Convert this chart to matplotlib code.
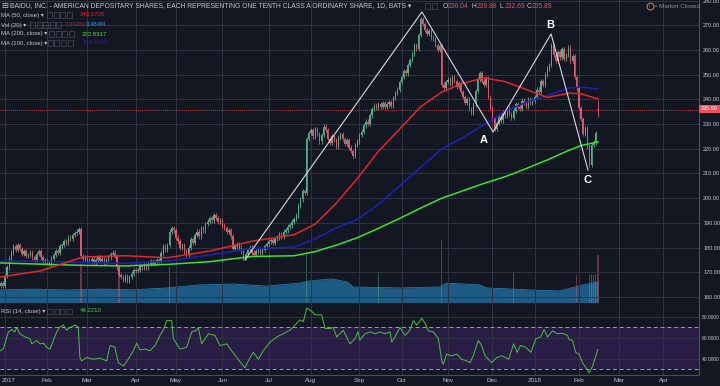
import numpy as np
import pandas as pd
import matplotlib
matplotlib.use('Agg')
import matplotlib.pyplot as plt
import matplotlib.transforms as mtransforms
from matplotlib.patches import Rectangle
from matplotlib.lines import Line2D

plt.rcParams['font.family'] = ['Liberation Sans', 'DejaVu Sans']

# daily closes, 2016-12-28 .. 2018-02-14
close_dec16 = [164.5, 165.5, 164.4]
close_jan17 = [168.5, 172.0, 175.5, 178.0, 180.5, 179.0, 181.0, 179.5, 177.5, 178.5,
               176.5, 177.0, 178.0, 176.0, 175.0, 177.5, 178.5, 176.0, 174.5, 175.0]
close_feb17 = [174.0, 173.5, 175.5, 177.0, 178.5, 178.0, 180.5, 181.0, 182.5, 182.0,
               184.0, 183.5, 185.0, 186.0, 186.5, 187.5, 176.5, 175.5, 176.0]
close_mar17 = [175.0, 174.5, 175.5, 174.0, 175.0, 176.0, 174.5, 175.5, 174.0, 175.0, 176.0,
               177.5, 178.0, 176.5, 172.0, 169.0, 168.0, 167.0, 168.5, 166.5, 168.0, 169.5, 171.0]
close_apr17 = [170.5, 171.0, 172.5, 172.0, 173.0, 172.0, 173.5, 174.5, 173.5, 174.0,
               175.0, 174.5, 178.0, 180.5, 179.0, 181.0, 186.5, 188.0, 187.0]
close_may17 = [184.0, 182.5, 180.0, 181.0, 178.5, 177.0, 180.0, 183.5, 182.0, 185.0, 186.5,
               184.5, 188.0, 187.0, 189.5, 190.5, 192.0, 191.0, 193.0, 192.0, 190.5, 191.0]
close_jun17 = [189.0, 188.0, 186.5, 187.0, 184.5, 179.5, 180.5, 181.5, 180.0, 178.5, 176.0,
               177.5, 179.0, 180.0, 178.0, 177.0, 178.5, 179.5, 178.0, 179.0, 180.5, 181.5]
close_jul17 = [182.5, 183.0, 182.0, 183.5, 184.0, 185.5, 184.5, 186.5, 187.0, 188.5,
               189.0, 190.5, 191.5, 193.0, 197.0, 199.5, 203.0, 202.0, 224.0, 226.5]
close_aug17 = [227.5, 225.0, 228.0, 226.0, 223.0, 225.5, 229.0, 227.5, 224.0, 222.5, 225.0, 223.5,
               221.0, 224.5, 226.0, 224.0, 222.0, 223.5, 220.5, 219.0, 217.0, 221.5, 223.0]
close_sep17 = [225.5, 227.0, 229.5, 231.0, 230.0, 233.5, 236.0, 237.5, 236.5, 238.0,
               237.0, 238.5, 237.0, 238.0, 239.0, 237.5, 240.5, 242.5, 244.0, 247.0]
close_oct17 = [249.0, 251.5, 250.5, 254.0, 256.0, 258.5, 262.0, 260.5, 266.0, 272.5, 270.5,
               268.0, 266.5, 267.5, 265.0, 264.5, 262.0, 260.0, 261.5, 246.0, 244.5, 247.0]
close_nov17 = [248.0, 246.5, 249.0, 247.5, 245.0, 246.5, 243.0, 241.0, 238.5, 240.0, 236.0,
               234.5, 238.0, 243.5, 248.0, 250.5, 247.5, 246.0, 248.5, 241.0, 236.5]
close_dec17 = [232.0, 228.0, 230.5, 233.0, 231.5, 235.0, 233.5, 236.5, 234.0, 232.5,
               235.5, 238.0, 237.0, 236.0, 239.5, 238.5, 237.0, 240.0, 238.5, 239.5]
close_jan18 = [241.0, 244.0, 243.0, 247.5, 246.0, 250.0, 252.5, 254.0, 262.0, 258.0, 255.5,
               259.0, 257.0, 260.5, 256.5, 258.0, 261.0, 255.5, 257.5, 249.0, 244.5]
close_feb18 = [236.5, 232.0, 226.0, 228.5, 221.0, 213.5, 221.5, 222.5, 226.5, 235.89]

last_open, last_high, last_low = 236.04, 239.88, 232.69

# moving averages read at these trading-day positions
ma_days = [0, 20, 40, 60, 80, 100, 120, 140, 150, 160, 170, 180, 190, 200, 210, 220,
           230, 240, 250, 260, 270, 276, 284]
ma50 = [168.0, 170.6, 176.2, 176.7, 175.9, 178.6, 182.6, 185.2, 189.5, 198.0, 208.0, 219.0,
        228.0, 237.0, 243.0, 246.5, 248.7, 247.2, 244.0, 240.8, 242.5, 242.3, 240.17]
ma100 = [174.5, 174.5, 174.0, 173.6, 174.5, 177.0, 179.6, 180.2, 183.5, 188.0, 191.4, 197.5,
         205.0, 212.5, 220.0, 224.6, 229.7, 235.2, 238.9, 241.5, 244.6, 245.0, 244.2]
ma200 = [173.8, 173.3, 172.8, 172.6, 173.2, 174.3, 176.4, 176.7, 178.4, 181.0, 184.0, 187.8,
         191.8, 196.0, 200.0, 203.0, 206.0, 208.7, 212.0, 215.5, 219.3, 221.3, 222.83]

# volume (millions): 20-day average area and the taller single bars
vol_days = [0, 16, 32, 48, 64, 80, 95, 111, 127, 143, 147, 158, 165, 168, 190, 209, 212,
            228, 231, 253, 266, 277, 284]
vol_ma = [2.16, 2.3, 2.16, 2.3, 2.2, 2.5, 3.0, 3.15, 2.8, 3.3, 3.65, 4.0, 3.5, 2.65, 2.5,
          2.65, 3.3, 3.0, 2.5, 2.15, 2.0, 3.0, 3.484]
vol_bar_days = [39, 57, 81, 146, 180, 210, 244, 274, 280, 281, 282, 283, 284]
vol_bar_vals = [6.5, 5.0, 6.0, 8.3, 5.1, 10.4, 5.1, 4.6, 4.6, 4.8, 4.6, 4.8, 7.893]

# RSI(14)
rsi_days = [0.6, 2.2, 4.6, 6.2, 7.7, 8.5, 10.1, 12.5, 14.8, 15.7,
            18, 19.6, 21.2, 22.8, 24.3, 25.9, 27.5, 29.1, 30.6, 32.2,
            33.8, 36.2, 37.7, 38.5, 39.3, 41.7, 44.8, 48, 51.2, 52.8,
            55.1, 56.7, 59.1, 61.4, 63.8, 65.4, 67, 69.4, 71.7, 74.1,
            76.5, 78, 79.6, 82, 82.8, 84.4, 85.9, 89.1, 91.5, 93.8,
            94.6, 96.2, 99.4, 102.5, 104.9, 108.1, 110.4, 112.8, 116.7, 119.1,
            120.7, 123.1, 125.4, 128.6, 131.8, 134.9, 138.1, 140.4, 142.8, 144.4,
            146, 148.4, 149.9, 153.1, 154.7, 157, 158.6, 160.2, 163.3, 166.5,
            168.8, 170.3, 171.2, 173.6, 176, 178.4, 180.7, 183.1, 185.5, 186.3,
            187.8, 190.2, 192.6, 194.9, 196.5, 198.1, 200.5, 202.1, 203.6, 206,
            208.4, 210, 210.7, 212.3, 214.7, 217.1, 219.4, 221.8, 223.4, 224.9,
            227.3, 228.9, 230.5, 232.1, 233.7, 236.1, 238.5, 241.7, 244.1, 245.7,
            247.3, 249.8, 252.2, 254.6, 256.9, 258.5, 260.1, 262.5, 264.8, 267.2,
            269.6, 270.4, 272, 273.5, 275.1, 276.7, 278.3, 279.9, 281.5, 284]
rsi_vals = [47.9, 49.5, 65.8, 68, 65.8, 70, 64, 61, 59.3, 54.4,
            57.6, 54.4, 55, 51, 49.5, 57.6, 65.8, 70.6, 72.3, 67.4,
            70, 72.3, 70.6, 41.4, 38.2, 41.4, 39.8, 40.8, 38.2, 52.8,
            51.2, 36.5, 33.3, 39.8, 47.9, 55, 48.6, 49.5, 47.9, 52.8,
            62.5, 67.4, 76.5, 76.5, 59.3, 54.4, 49.5, 51.2, 65.8, 67.4,
            70, 54.4, 64, 62.5, 52.8, 54.4, 47.9, 41.4, 31.6, 41.4,
            46.3, 39.8, 47.9, 56, 61, 64, 67.4, 72.3, 77.2, 75.5,
            88.5, 85.3, 82, 82, 69, 69, 70, 61, 67.4, 54.4,
            59.3, 66, 58, 64, 65.8, 64, 65.8, 64, 65.8, 56,
            61, 70, 62.5, 67.4, 76.5, 72.3, 78.8, 73.9, 66.8, 65.8,
            59.3, 38.2, 34.9, 44.6, 43, 44.6, 39.8, 38.2, 36.5, 43,
            57.6, 52.8, 43, 39.8, 36.5, 41.4, 43, 39.8, 54.4, 46.3,
            52.8, 51.2, 46.3, 59.3, 61, 68, 61, 66.8, 64, 64.5,
            62.5, 58.3, 57.6, 46.3, 44.6, 36.5, 31.6, 26.8, 33.3, 49.22]

# hand-drawn A-B-C wave
abc_days = [116.7, 200.6, 234.3, 261.8, 279.3]
abc_prices = [175.0, 275.4, 226.8, 266.5, 211.4]
abc_labels = [('A', 230.0, 223.6), ('B', 261.3, 270.1), ('C', 279.3, 207.4)]

holidays = ['2017-01-02', '2017-01-16', '2017-02-20', '2017-04-14', '2017-05-29',
            '2017-07-04', '2017-09-04', '2017-11-23', '2017-12-25', '2018-01-01',
            '2018-01-15', '2018-02-19', '2018-03-30']

BG = '#131722'
GRID = '#2f3343'
TXT = '#c3c6ce'
UP = '#56ad8c'
DOWN = '#e0566a'

closes = np.array(close_dec16 + close_jan17 + close_feb17 + close_mar17 + close_apr17 +
                  close_may17 + close_jun17 + close_jul17 + close_aug17 + close_sep17 +
                  close_oct17 + close_nov17 + close_dec17 + close_jan18 + close_feb18)
n = len(closes)
days = np.arange(n)
opens = np.r_[closes[0] - 0.6, closes[:-1]]
opens[-1] = last_open
wick = 0.9
highs = np.maximum(opens, closes) + wick
lows = np.minimum(opens, closes) - wick
highs[-1], lows[-1] = last_high, last_low
colors = np.where(closes >= opens, UP, DOWN)

dates = pd.bdate_range('2016-12-28', '2018-04-30', freq='C', holidays=holidays)
month_pos = [i for i in range(1, len(dates)) if dates[i].month != dates[i - 1].month]
month_lbl = [dates[i].strftime('%Y') if dates[i].month == 1 else dates[i].strftime('%b')
             for i in month_pos]

W, H = 720, 386
def fx(px):
    return px / W
def fy(py):
    return 1 - py / H

fig = plt.figure(figsize=(7.2, 3.86), dpi=100, facecolor=BG)
rect_main = [0, fy(303), fx(699), 303 / H]
back = fig.add_axes(rect_main, facecolor=BG)
ax = fig.add_axes(rect_main, facecolor='none')
rax = fig.add_axes([0, fy(375), fx(699), 72 / H], facecolor=BG)

xlim = (3 - 5 / 2.11, 3 + 694 / 2.11)
for a in (back, ax, rax):
    a.set_xlim(*xlim)
    a.set_xticks(month_pos)
    a.tick_params(length=0)
    for s in a.spines.values():
        s.set_visible(False)

# volume
back.set_ylim(0, 303 / 6.03)
back.set_yticks([])
back.set_xticklabels([])
back.fill_between(vol_days, vol_ma, color='#1d5a84', lw=0, zorder=1)
back.plot(vol_days, vol_ma, color='#2b78a8', lw=0.6, zorder=2)
back.bar(vol_bar_days, vol_bar_vals, width=0.6,
         color=[colors[d] for d in vol_bar_days], alpha=0.45, lw=0, zorder=3)

# price
ax.set_ylim(157.57, 280.24)
ax.yaxis.tick_right()
ax.set_yticks(np.arange(160, 281, 10))
ax.set_yticklabels(['%.2f' % v for v in np.arange(160, 281, 10)])
ax.tick_params(axis='y', labelsize=4, labelcolor=TXT, pad=3)
ax.set_xticklabels([])
ax.grid(True, color=GRID, lw=0.7)
ax.set_axisbelow(True)
ax.spines['right'].set_visible(True)
ax.spines['bottom'].set_visible(True)
ax.spines['right'].set_color('#4b4f5d')
ax.spines['bottom'].set_color('#4b4f5d')

ax.axhline(235.89, color='#e8505f', lw=0.6, ls=(0, (1, 1.5)), zorder=2)
ax.vlines(days, lows, highs, colors=colors, lw=0.6, zorder=3)
ax.bar(days, np.maximum(np.abs(closes - opens), 0.3), bottom=np.minimum(opens, closes),
       width=0.62, color=colors, lw=0, zorder=3)
ax.plot(ma_days, ma200, color='#3fe02d', lw=1.1, zorder=4)
ax.plot(ma_days, ma100, color='#1b22b8', lw=1.1, zorder=4)
ax.plot(ma_days, ma50, color='#e3262a', lw=1.1, zorder=4)
ax.plot(abc_days, abc_prices, color='#d6d8de', lw=0.8, zorder=5)
for lbl, d, p in abc_labels:
    ax.text(d, p, lbl, color='white', fontsize=8, fontweight='bold',
            ha='center', va='center', zorder=6)

# RSI
rax.set_ylim(24.76, 93.3)
rax.axhspan(30, 70, color='#291d45', lw=0, zorder=0)
rax.yaxis.tick_right()
rax.set_yticks([40, 60, 80])
rax.set_yticklabels(['%.4f' % v for v in (40, 60, 80)])
rax.set_xticklabels(month_lbl)
rax.tick_params(axis='y', labelsize=3.5, labelcolor=TXT, pad=2)
rax.tick_params(axis='x', labelsize=4.5, labelcolor=TXT, pad=2)
rax.grid(True, color=GRID, lw=0.7)
rax.set_axisbelow(True)
for lvl in (30, 70):
    rax.axhline(lvl, color='#9a9daa', lw=0.7, ls=(0, (4, 3)), zorder=1)
rax.plot(rsi_days, rsi_vals, color='#4cc043', lw=0.7, zorder=3)
rax.spines['right'].set_visible(True)
rax.spines['bottom'].set_visible(True)
rax.spines['right'].set_color('#4b4f5d')
rax.spines['bottom'].set_color('#4b4f5d')
# keep the first date label ("2017") inside the picture
first = rax.get_xticklabels()[0]
first.set_transform(first.get_transform() +
                    mtransforms.ScaledTranslation(4 / 100, 0, fig.dpi_scale_trans))

# last price label on the axis
fig.text(fx(709.5), fy(109), '235.89', fontsize=4, color='white', ha='center', va='center',
         bbox=dict(boxstyle='square,pad=0.35', fc='#ef5060', ec='none'))

# header and legends
def boxes(x0, y, count):
    for k in range(count):
        fig.add_artist(Rectangle((fx(x0 + k * 6.5), fy(y + 2.5)), 5 / W, 5 / H,
                                 transform=fig.transFigure, fc='none', ec='#474b58', lw=0.5))

def label(x, y, s, color=TXT, size=4.3):
    fig.text(fx(x), fy(y), s, fontsize=size, color=color, va='center', ha='left')

label(1, 6, '\u229f', size=6)
label(10, 6, 'BAIDU, INC. - AMERICAN DEPOSITARY SHARES, EACH REPRESENTING ONE TENTH '
      'CLASS A ORDINARY SHARE, 1D, BATS \u25be', size=4.9)
boxes(425, 6, 2)
red = '#e0505f'
for x_letter, letter, value in [(443, 'O', '236.04'), (472, 'H', '239.88'),
                                (500, 'L', '232.69'), (527, 'C', '235.89')]:
    label(x_letter, 6, letter, size=4.9)
    label(x_letter + 4.5, 6, value, color=red, size=4.9)

label(1, 15, 'MA (50, close) \u25be')
boxes(47, 15, 4)
label(80, 15, '240.1726', color='#e3262a')
label(1, 25, 'Vol (20) \u25be')
boxes(30, 25, 5)
label(65, 25, '7.893M', color='#8c2f3a')
label(86, 25, '3.484M', color='#3a8fd8')
label(1, 34, 'MA (200, close) \u25be')
boxes(49, 34, 4)
label(82, 34, '222.8317', color='#3fe02d')
label(1, 43, 'MA (100, close) \u25be')
boxes(48, 43, 4)
label(83, 43, '244.1812', color='#1b22b8')

label(1, 311, 'RSI (14, close) \u25be')
boxes(47, 311, 4)
label(80, 311, '49.2210', color='#4cc043')

fig.add_artist(Line2D([fx(650)], [fy(6)], marker='o', ms=5, mfc='none', mec='#e0892a',
                      mew=0.7, transform=fig.transFigure))
fig.text(fx(650), fy(6), 'II', fontsize=3, color='#e0892a', ha='center', va='center')
label(655, 6, '\u2022 Market Closed', color='#8a8e9a', size=4.6)

fig.savefig('out.png', dpi=100, facecolor=BG)
